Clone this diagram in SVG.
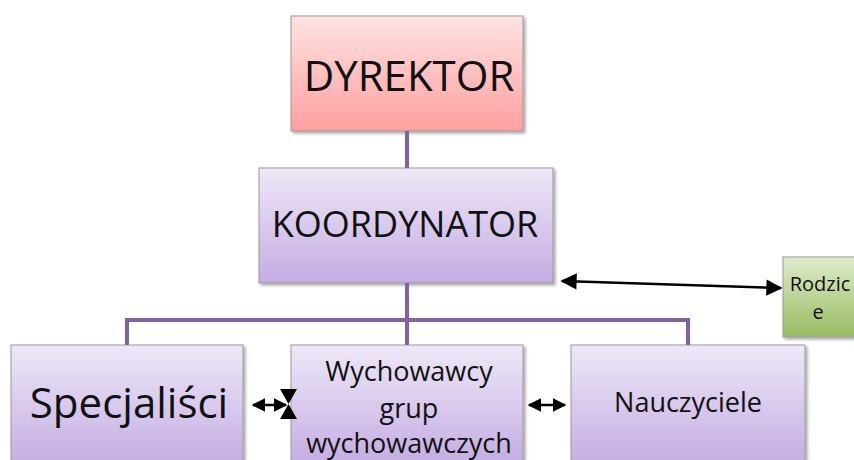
<svg xmlns="http://www.w3.org/2000/svg" width="854" height="460" viewBox="0 0 854 460">
<defs>
<linearGradient id="gPink" x1="0" y1="0" x2="0" y2="1"><stop offset="0" stop-color="#ffe3e3"/><stop offset="1" stop-color="#ff9f9f"/></linearGradient>
<linearGradient id="gLav" x1="0" y1="0" x2="0" y2="1"><stop offset="0" stop-color="#efe8f8"/><stop offset="1" stop-color="#c3ace2"/></linearGradient>
<linearGradient id="gGreen" x1="0" y1="0" x2="0" y2="1"><stop offset="0" stop-color="#e0eccc"/><stop offset="1" stop-color="#98bb62"/></linearGradient>
<filter id="sh" x="-10%" y="-10%" width="130%" height="130%"><feDropShadow dx="2" dy="2" stdDeviation="1.5" flood-color="#000" flood-opacity="0.35"/></filter>
<marker id="ah" viewBox="0 0 10 10" refX="9" refY="5" markerWidth="5.5" markerHeight="5.5" orient="auto-start-reverse" markerUnits="strokeWidth"><path d="M0,0 L10,5 L0,10 z" fill="#000"/></marker>
<marker id="ahL" viewBox="0 0 10 10" refX="9" refY="5" markerWidth="7" markerHeight="6.5" orient="auto-start-reverse" markerUnits="strokeWidth"><path d="M0,0 L10,5 L0,10 z" fill="#000"/></marker>
</defs>
<style>
.box{stroke:#9a9a9a;stroke-width:1;filter:url(#sh)}
.t{font-family:"Open Sans","Liberation Sans",sans-serif;fill:#111;text-anchor:middle}
.org{stroke:#8064a2;stroke-width:4;fill:none}
.arr{stroke:#000;stroke-width:2.5;fill:none}
</style>
<rect width="854" height="460" fill="#fff"/>
<g id="dyrektor"><rect class="box" x="291" y="16" width="232" height="115" fill="url(#gPink)"/><text class="t" x="409" y="91" font-size="42">DYREKTOR</text></g>
<g id="koordynator"><rect class="box" x="259" y="168" width="294" height="115" fill="url(#gLav)"/><text class="t" x="405" y="237" font-size="36">KOORDYNATOR</text></g>
<g id="rodzice"><rect class="box" x="783" y="257" width="75" height="80" fill="url(#gGreen)"/><text class="t" x="820" y="291" font-size="20">Rodzic</text><text class="t" x="818" y="319" font-size="20">e</text></g>
<g id="specjalisci"><rect class="box" x="11" y="345" width="232" height="120" fill="url(#gLav)"/><text class="t" x="129" y="418" font-size="42">Specjaliści</text></g>
<g id="wychowawcy"><rect class="box" x="291" y="345" width="232" height="120" fill="url(#gLav)"/><text class="t" x="409" y="381" font-size="27">Wychowawcy</text><text class="t" x="409" y="418" font-size="27">grup</text><text class="t" x="409" y="453" font-size="27">wychowawczych</text></g>
<g id="nauczyciele"><rect class="box" x="571" y="345" width="234" height="120" fill="url(#gLav)"/><text class="t" x="688" y="412" font-size="27">Nauczyciele</text></g>
<g id="connectors">
<line class="org" x1="407" y1="131" x2="407" y2="168"/>
<line class="org" x1="407" y1="283" x2="407" y2="345"/>
<polyline class="org" points="127,345 127,320 688,320 688,345"/>
<line class="arr" x1="562" y1="281" x2="781" y2="288" marker-start="url(#ahL)" marker-end="url(#ahL)"/>
<line class="arr" x1="529" y1="405" x2="565" y2="405" marker-start="url(#ah)" marker-end="url(#ah)"/>
<line class="arr" x1="253" y1="405" x2="286" y2="405" marker-start="url(#ah)" marker-end="url(#ah)"/>
<polygon points="280,389 297,389 288.5,404 297,419 280,419 288.5,404" fill="#000"/>
</g>
</svg>
